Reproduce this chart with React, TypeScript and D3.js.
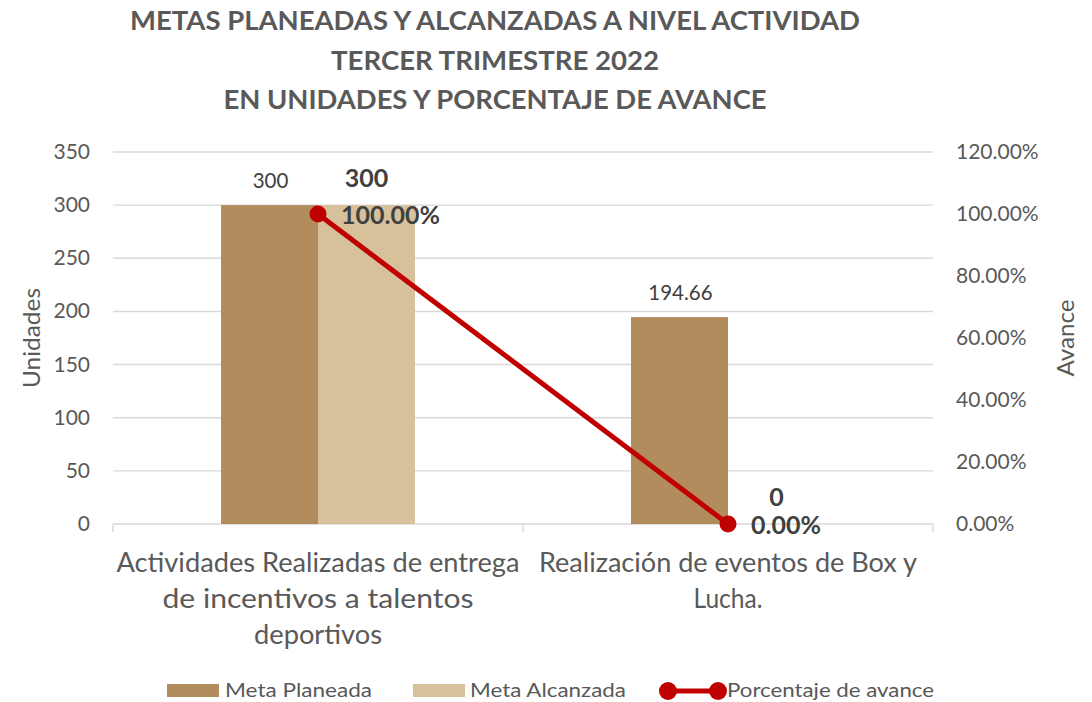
import React, { useRef, useEffect } from "react"
import * as d3 from "d3"

// chart data
const categories = [
  ["Actividades Realizadas de entrega", "de incentivos a talentos", "deportivos"],
  ["Realización de eventos de Box y", "Lucha."],
]
const metaPlaneada = [300, 194.66]
const metaAlcanzada = [300, 0]
const avance = [1.0, 0.0]
const leftTicks = [0, 50, 100, 150, 200, 250, 300, 350]
const rightTicks = [0, 0.2, 0.4, 0.6, 0.8, 1.0, 1.2]
const titleLines = [
  "METAS PLANEADAS Y ALCANZADAS A NIVEL ACTIVIDAD",
  "TERCER TRIMESTRE 2022",
  "EN UNIDADES Y PORCENTAJE DE AVANCE",
]
const legendItems = ["Meta Planeada", "Meta Alcanzada", "Porcentaje de avance"]

// measured widths of the text in the reference (font there is wider than Lato)
const titleWidths = [730, 328, 543]
const categoryWidths = [[403, 311, 128], [378, 69]]
const legendWidths = [147, 156, 207]

const W = 1092
const H = 702
const FONT = "Lato, sans-serif"
const GREY = "#595959"
const DARK = "#404040"
const C_PLAN = "#B28C5C"
const C_ALC = "#D6C19B"
const C_LINE = "#C00000"
const C_GRID = "#D9D9D9"

const App = () => {
  const ref = useRef<SVGSVGElement>(null)

  useEffect(() => {
    const svg = d3.select(ref.current)
    svg.selectAll("*").remove()
    svg.attr("width", W).attr("height", H).style("font-family", FONT)

    const left = 113, right = 933, top = 152, bottom = 524

    const x = d3.scaleBand<number>().domain(d3.range(categories.length)).range([left, right])
    const y = d3.scaleLinear().domain([0, 350]).range([bottom, top])
    const y2 = d3.scaleLinear().domain([0, 1.2]).range([bottom, top])
    const barW = 97
    const cx = (i: number) => (x(i) as number) + x.bandwidth() / 2

    // title
    svg.append("g").selectAll("text").data(titleLines).enter().append("text")
      .attr("x", 495).attr("y", (d, i) => 30 + i * 39.5)
      .attr("text-anchor", "middle").attr("font-size", 26).attr("font-weight", "bold")
      .attr("fill", GREY)
      .attr("textLength", (d, i) => titleWidths[i]).attr("lengthAdjust", "spacingAndGlyphs")
      .text(d => d)

    // gridlines
    svg.append("g").selectAll("line").data(leftTicks).enter().append("line")
      .attr("x1", left).attr("x2", right).attr("y1", d => y(d)).attr("y2", d => y(d))
      .attr("stroke", C_GRID).attr("stroke-width", 1.4)

    // category separator ticks
    svg.append("g").selectAll("line").data([left, left + x.bandwidth(), right]).enter().append("line")
      .attr("x1", d => d).attr("x2", d => d).attr("y1", bottom).attr("y2", bottom + 8)
      .attr("stroke", C_GRID).attr("stroke-width", 1.4)

    // left axis labels
    svg.append("g").selectAll("text").data(leftTicks).enter().append("text")
      .attr("x", 90).attr("y", d => y(d) + 7).attr("text-anchor", "end")
      .attr("font-size", 21).attr("fill", GREY).text(d => d)

    // right axis labels
    svg.append("g").selectAll("text").data(rightTicks).enter().append("text")
      .attr("x", 956).attr("y", d => y2(d) + 7).attr("text-anchor", "start")
      .attr("font-size", 21).attr("fill", GREY).text(d => (d * 100).toFixed(2) + "%")

    // axis titles
    svg.append("text").attr("transform", "translate(40,338) rotate(-90)")
      .attr("text-anchor", "middle").attr("font-size", 23).attr("fill", GREY)
      .attr("textLength", 100).attr("lengthAdjust", "spacingAndGlyphs").text("Unidades")
    svg.append("text").attr("transform", "translate(1074,338) rotate(-90)")
      .attr("text-anchor", "middle").attr("font-size", 23).attr("fill", GREY)
      .attr("textLength", 77).attr("lengthAdjust", "spacingAndGlyphs").text("Avance")

    // bars
    svg.append("g").selectAll("rect").data(metaPlaneada).enter().append("rect")
      .attr("x", (d, i) => cx(i) - barW).attr("width", barW)
      .attr("y", d => y(d)).attr("height", d => bottom - y(d)).attr("fill", C_PLAN)
    svg.append("g").selectAll("rect").data(metaAlcanzada).enter().append("rect")
      .attr("x", (d, i) => cx(i)).attr("width", barW)
      .attr("y", d => y(d)).attr("height", d => bottom - y(d)).attr("fill", C_ALC)

    // planeada labels
    svg.append("g").selectAll("text").data(metaPlaneada).enter().append("text")
      .attr("x", (d, i) => cx(i) - barW / 2 + 1).attr("y", d => y(d) - 17)
      .attr("text-anchor", "middle").attr("font-size", 20.5).attr("fill", DARK).text(d => d)

    // alcanzada labels (bold)
    svg.append("g").selectAll("text").data(metaAlcanzada).enter().append("text")
      .attr("x", (d, i) => cx(i) + barW / 2).attr("y", d => y(d) - 18)
      .attr("text-anchor", "middle").attr("font-size", 25).attr("font-weight", "bold")
      .attr("fill", DARK).text(d => d)

    // line
    const line = d3.line<number>().x((d, i) => cx(i)).y(d => y2(d))
    svg.append("path").datum(avance).attr("d", line).attr("fill", "none")
      .attr("stroke", C_LINE).attr("stroke-width", 5)
    svg.append("g").selectAll("circle").data(avance).enter().append("circle")
      .attr("cx", (d, i) => cx(i)).attr("cy", d => y2(d)).attr("r", 8.5).attr("fill", C_LINE)

    // percent labels
    svg.append("g").selectAll("text").data(avance).enter().append("text")
      .attr("x", (d, i) => cx(i) + 23).attr("y", d => y2(d) + 10)
      .attr("text-anchor", "start").attr("font-size", 25).attr("font-weight", "bold")
      .attr("fill", DARK).text(d => (d * 100).toFixed(2) + "%")

    // category labels
    const cat = svg.append("g").selectAll("text").data(categories).enter().append("text")
      .attr("text-anchor", "middle").attr("font-size", 26).attr("fill", GREY)
    cat.selectAll("tspan").data((d, i) => d.map((s, j) => ({ s, i, j }))).enter().append("tspan")
      .attr("x", d => cx(d.i)).attr("y", d => 572 + d.j * 36)
      .attr("textLength", d => categoryWidths[d.i][d.j]).attr("lengthAdjust", "spacingAndGlyphs")
      .text(d => d.s)

    // legend
    const lg = svg.append("g").attr("font-size", 19.5).attr("fill", GREY)
    const swatchX = [167, 413]
    const textX = [225, 470, 727]
    lg.selectAll("rect").data([C_PLAN, C_ALC]).enter().append("rect")
      .attr("x", (d, i) => swatchX[i]).attr("y", 684).attr("width", 52).attr("height", 13)
      .attr("fill", d => d)
    lg.append("line").attr("x1", 668).attr("x2", 718).attr("y1", 691).attr("y2", 691)
      .attr("stroke", C_LINE).attr("stroke-width", 5)
    lg.selectAll("circle").data([668, 718]).enter().append("circle")
      .attr("cx", d => d).attr("cy", 691).attr("r", 9).attr("fill", C_LINE)
    lg.selectAll("text").data(legendItems).enter().append("text")
      .attr("x", (d, i) => textX[i]).attr("y", 697)
      .attr("textLength", (d, i) => legendWidths[i]).attr("lengthAdjust", "spacingAndGlyphs")
      .text(d => d)
  }, [])

  return <svg ref={ref} style={{ position: "absolute", left: 0, top: 0 }} />
}

export default App
